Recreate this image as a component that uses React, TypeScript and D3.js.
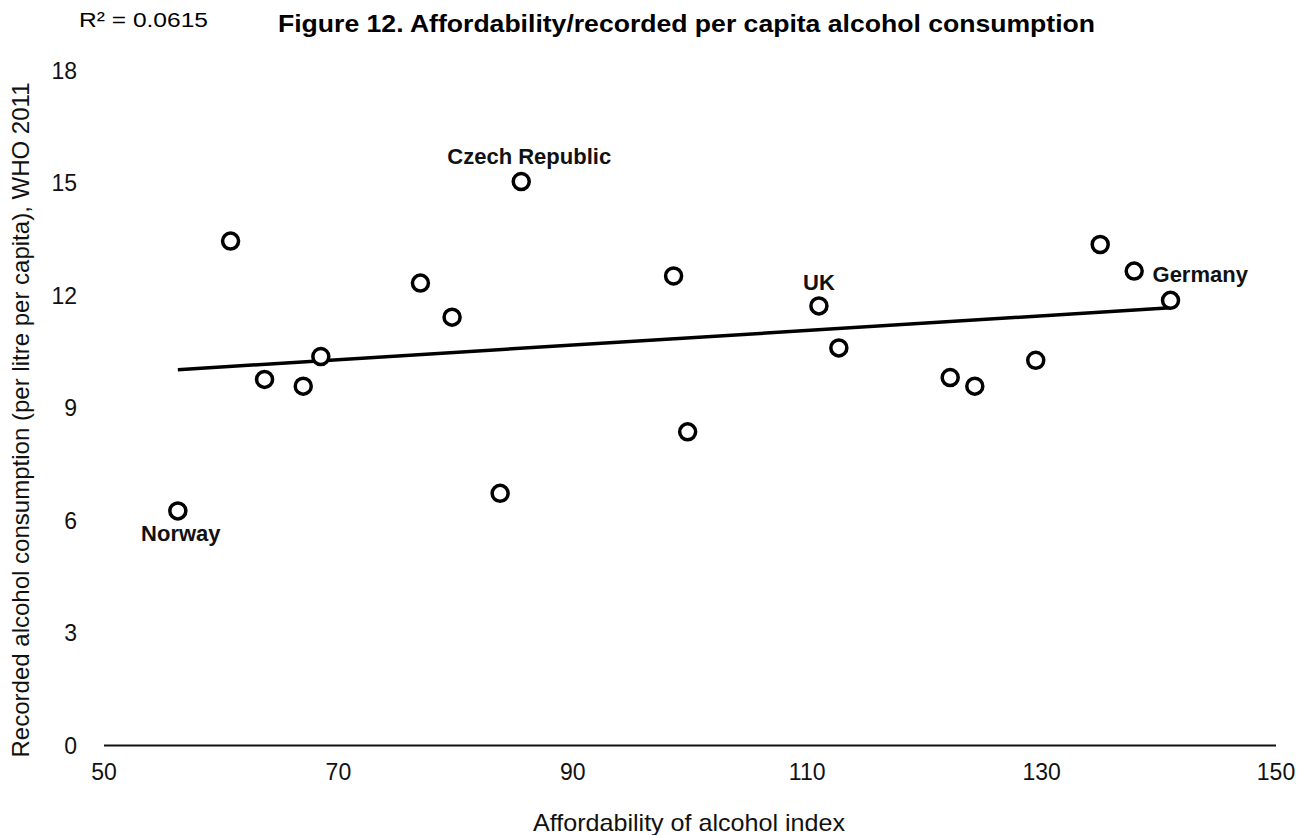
import { scaleLinear, line } from "d3";

// affordability index vs recorded consumption (litres per capita)
const countries = [
  "Norway", "", "", "", "", "", "", "", "Czech Republic", "", "",
  "UK", "", "", "", "", "", "", "Germany",
];
const affordability = [
  56.3, 60.8, 63.7, 67.0, 68.5, 77.0, 79.7, 83.8, 85.6, 98.6, 99.8,
  111.0, 112.7, 122.2, 124.3, 129.5, 135.0, 137.9, 141.0,
];
const consumption = [
  6.26, 13.46, 9.77, 9.59, 10.38, 12.34, 11.43, 6.73, 15.05, 12.53, 8.37,
  11.73, 10.61, 9.82, 9.59, 10.28, 13.37, 12.66, 11.88,
];
// linear trend, endpoints
const trendX = [56.3, 141.0];
const trendY = [10.03, 11.68];
const xTicks = [50, 70, 90, 110, 130, 150];
const yTicks = [0, 3, 6, 9, 12, 15, 18];

const title = "Figure 12. Affordability/recorded per capita alcohol consumption";
const rSquared = "R\u00B2 = 0.0615";
const xTitle = "Affordability of alcohol index";
const yTitle = "Recorded alcohol consumption (per litre per capita), WHO 2011";

const labelOffset: Record<string, { dx: number; dy: number; anchor: string }> = {
  Norway: { dx: 3, dy: 30, anchor: "middle" },
  "Czech Republic": { dx: 8, dy: -18, anchor: "middle" },
  UK: { dx: 0, dy: -16, anchor: "middle" },
  Germany: { dx: -18, dy: -18, anchor: "start" },
};

const W = 1309;
const H = 835;
const font = "'Liberation Sans', Arial, Helvetica, sans-serif";

export default function App() {
  const x = scaleLinear([50, 150], [104, 1276]);
  const y = scaleLinear([0, 18], [745.5, 71]);

  const trend = line<number>()
    .x((d) => x(d))
    .y((_, i) => y(trendY[i]))(trendX);

  return (
    <svg
      width={W}
      height={H}
      style={{ position: "absolute", left: 0, top: 0, background: "#fff" }}
      fontFamily={font}
    >
      <text x={79} y={27} fontSize={20} textLength={129} lengthAdjust="spacingAndGlyphs" fill="#000">
        {rSquared}
      </text>
      <text x={278} y={32} fontSize={24} fontWeight="bold" textLength={817} lengthAdjust="spacingAndGlyphs" fill="#000">
        {title}
      </text>

      {yTicks.map((t) => (
        <text key={t} x={77} y={y(t)} dy="0.35em" textAnchor="end" fontSize={23} fill="#111">
          {t}
        </text>
      ))}
      {xTicks.map((t) => (
        <text key={t} x={x(t)} y={780} textAnchor="middle" fontSize={23} fill="#111">
          {t}
        </text>
      ))}

      <line x1={x(50)} x2={x(150)} y1={y(0)} y2={y(0)} stroke="#111" strokeWidth={2} />

      <text x={689} y={831} textAnchor="middle" fontSize={24} textLength={312} lengthAdjust="spacingAndGlyphs" fill="#111">
        {xTitle}
      </text>
      <text
        transform={`translate(29,${420}) rotate(-90)`}
        textAnchor="middle"
        fontSize={24}
        textLength={675}
        lengthAdjust="spacingAndGlyphs"
        fill="#111"
      >
        {yTitle}
      </text>

      <path d={trend ?? ""} fill="none" stroke="#000" strokeWidth={3.5} />

      {affordability.map((a, i) => (
        <circle
          key={i}
          cx={x(a)}
          cy={y(consumption[i])}
          r={8}
          fill="#fff"
          stroke="#000"
          strokeWidth={3.5}
        />
      ))}

      {countries.map((c, i) => {
        if (!c) return null;
        const o = labelOffset[c];
        return (
          <text
            key={c}
            x={x(affordability[i]) + o.dx}
            y={y(consumption[i]) + o.dy}
            textAnchor={o.anchor}
            fontSize={22}
            fontWeight="bold"
            fill="#111"
          >
            {c}
          </text>
        );
      })}
    </svg>
  );
}
